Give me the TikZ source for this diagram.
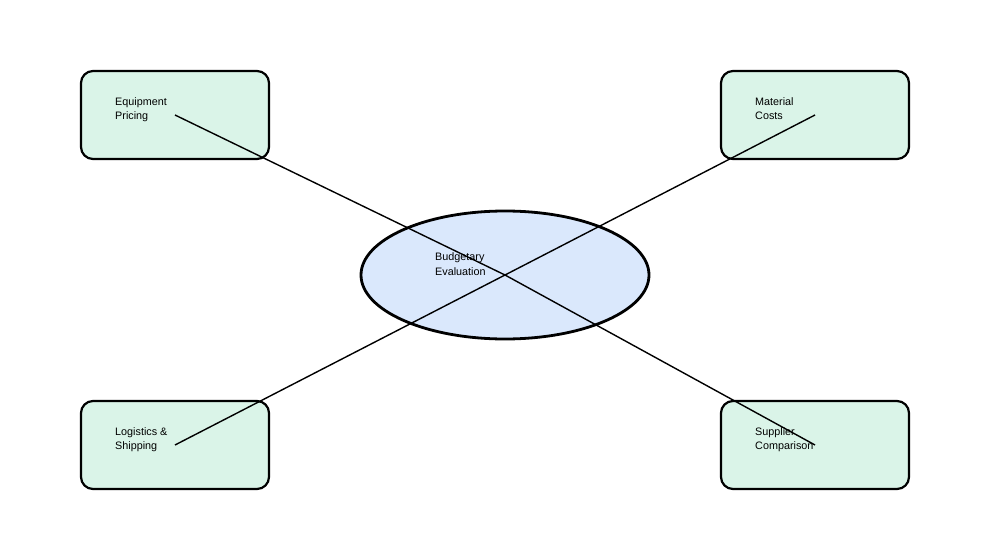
\documentclass[tikz,border=0pt]{standalone}
\usepackage{fontspec}
\setmainfont{Liberation Sans}
\usetikzlibrary{shapes.geometric}
\definecolor{boxfill}{HTML}{DAF4E8}
\definecolor{ellfill}{HTML}{DAE8FC}
\begin{document}
\begin{tikzpicture}[x=1pt,y=1pt,
  topic/.style={draw=black,line width=2.2pt,fill=boxfill,rounded corners=12pt,minimum width=188pt,minimum height=88pt,inner sep=0pt},
  hub/.style={ellipse,draw=black,line width=2.8pt,fill=ellfill,minimum width=288pt,minimum height=128pt,inner sep=0pt},
  lbl/.style={anchor=north west,inner sep=0pt,align=left,font=\fontsize{10.8pt}{14pt}\selectfont},
  link/.style={draw=black,line width=1.4pt}]
\useasboundingbox (0,0) rectangle (1000,550);
\fill[white] (0,0) rectangle (1000,550);
\node[topic] (eq) at (175,435) {};
\node[topic] (mc) at (815,435) {};
\node[topic] (ls) at (175,105) {};
\node[topic] (sc) at (815,105) {};
\node[hub] (be) at (505,275) {};
\node[lbl] (eqt) at (115,452.5) {Equipment\\Pricing};
\node[lbl] (mct) at (755,452.5) {Material\\Costs};
\node[lbl] (lst) at (115,122.5) {Logistics \&\\Shipping};
\node[lbl] (sct) at (755,122.5) {Supplier\\Comparison};
\node[lbl,font=\fontsize{10.8pt}{15pt}\selectfont] (bet) at (435,297.5) {Budgetary\\Evaluation};
\draw[link] (eq.center) -- (be.center);
\draw[link] (mc.center) -- (be.center);
\draw[link] (ls.center) -- (be.center);
\draw[link] (sc.center) -- (be.center);
\end{tikzpicture}
\end{document}
